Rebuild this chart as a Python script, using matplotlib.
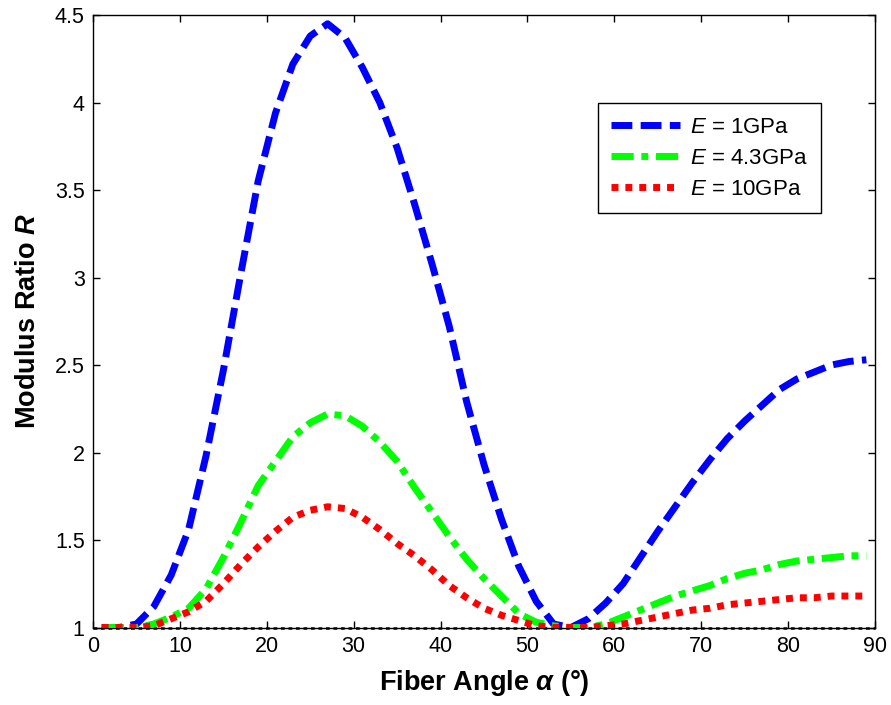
import matplotlib
matplotlib.use('Agg')
import matplotlib.pyplot as plt
import numpy as np

### Fonts (Arial-like, MATLAB look)
plt.rcParams['font.family'] = ['Liberation Sans', 'DejaVu Sans']
plt.rcParams['mathtext.fontset'] = 'custom'
plt.rcParams['mathtext.rm'] = 'Liberation Sans'
plt.rcParams['mathtext.it'] = 'Liberation Sans:italic'
plt.rcParams['mathtext.bf'] = 'Liberation Sans:bold:italic'

### Data
angle = np.arange(1, 90, 2)

ratio_1gpa = [1.00, 1.00, 1.02, 1.12, 1.30, 1.56, 1.98, 2.47, 3.02, 3.55,
              3.94, 4.22, 4.38, 4.45, 4.37, 4.20, 4.00, 3.74, 3.42, 3.08,
              2.72, 2.29, 1.93, 1.62, 1.35, 1.15, 1.02, 1.00, 1.05, 1.14,
              1.25, 1.40, 1.55, 1.69, 1.83, 1.96, 2.08, 2.18, 2.27, 2.36,
              2.42, 2.46, 2.50, 2.52, 2.53]

ratio_43gpa = [1.00, 1.00, 1.00, 1.02, 1.06, 1.11, 1.22, 1.40, 1.60, 1.81,
               1.95, 2.09, 2.17, 2.22, 2.21, 2.15, 2.06, 1.95, 1.80, 1.66,
               1.52, 1.39, 1.28, 1.18, 1.08, 1.03, 1.01, 1.00, 1.00, 1.02,
               1.06, 1.10, 1.14, 1.18, 1.21, 1.24, 1.28, 1.31, 1.33, 1.36,
               1.38, 1.39, 1.40, 1.41, 1.41]

ratio_10gpa = [1.00, 1.00, 1.00, 1.01, 1.05, 1.09, 1.15, 1.25, 1.36, 1.46,
               1.55, 1.63, 1.67, 1.69, 1.68, 1.63, 1.56, 1.48, 1.41, 1.33,
               1.24, 1.17, 1.11, 1.07, 1.04, 1.01, 1.00, 1.00, 1.00, 1.01,
               1.02, 1.04, 1.06, 1.08, 1.10, 1.11, 1.13, 1.14, 1.15, 1.16,
               1.17, 1.17, 1.18, 1.18, 1.18]

labels = ['$E$ = 1GPa', '$E$ = 4.3GPa', '$E$ = 10GPa']
xticks = np.arange(0, 91, 10)
yticks = np.arange(1, 4.51, 0.5)

### Plot
fig = plt.figure(figsize=(8.91, 7.05), dpi=100)
ax = fig.add_axes([0.1044, 0.1099, 0.8777, 0.8688])

ax.axhline(1, color='k', linestyle=(0, (1.5, 1.5)), linewidth=1.8, clip_on=False, zorder=1)

ax.plot(angle, ratio_1gpa, color='#0000ff', linewidth=5, linestyle=(0, (3.0, 1.2)),
        dash_capstyle='butt', label=labels[0], zorder=3)
ax.plot(angle, ratio_43gpa, color='#00ff00', linewidth=5, linestyle=(0, (3.2, 1.1, 1.0, 1.1)),
        dash_capstyle='butt', label=labels[1], zorder=3)
ax.plot(angle, ratio_10gpa, color='#ff0000', linewidth=5, linestyle=(0, (1.0, 1.0)),
        dash_capstyle='butt', label=labels[2], zorder=3)

ax.set_xlim(0, 90)
ax.set_ylim(1, 4.5)
ax.set_xticks(xticks)
ax.set_xticklabels([str(v) for v in xticks])
ax.set_yticks(yticks)
ax.set_yticklabels(['%g' % v for v in yticks])

ax.tick_params(direction='in', top=True, right=True, length=5, width=1,
               labelsize=15.5, pad=6)
for sp in ax.spines.values():
    sp.set_linewidth(1.0)
    sp.set_color('k')

ax.set_xlabel(r'Fiber Angle $\mathbf{\alpha}$ (°)', fontsize=19.5, fontweight='bold', labelpad=8)
ax.set_ylabel(r'Modulus Ratio $\mathbf{R}$', fontsize=19.5, fontweight='bold', labelpad=10)

leg = ax.legend(loc='upper right', bbox_to_anchor=(0.931, 0.856), borderaxespad=0,
                fontsize=16, handlelength=3.1, handletextpad=0.45, labelspacing=0.45,
                fancybox=False, framealpha=1, edgecolor='k', borderpad=0.6)
leg.get_frame().set_linewidth(1.0)

fig.savefig('out.png', dpi=100)
